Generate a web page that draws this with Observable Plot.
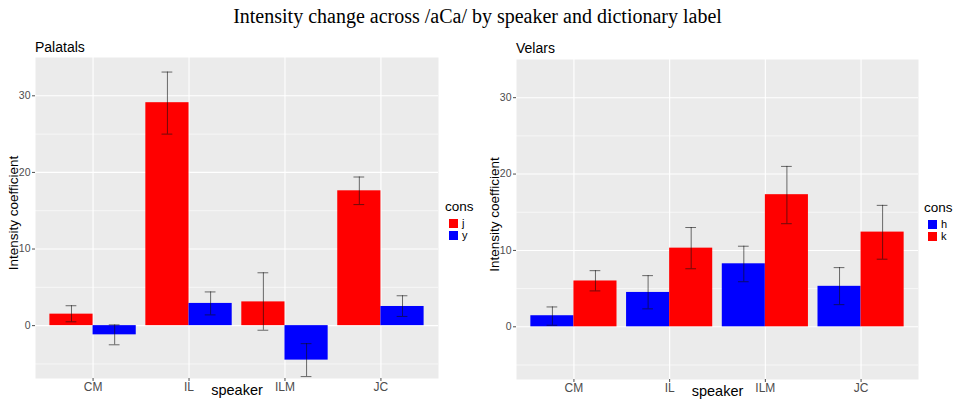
<!DOCTYPE html>
<html><head><meta charset="utf-8">
<script src="https://cdn.jsdelivr.net/npm/d3@7"></script>
<script src="https://cdn.jsdelivr.net/npm/@observablehq/plot@0.6"></script>
<style>
body{margin:0;background:#fff;font-family:"Liberation Sans",Arial,sans-serif;}
#root{position:relative;width:955px;height:402px;overflow:hidden;background:#fff;}
.abs{position:absolute;white-space:nowrap;}
.title{font-family:"Liberation Serif","Times New Roman",serif;font-size:20px;left:0;width:955px;text-align:center;top:5px;color:#000;}
.ptitle{font-size:14px;color:#000;}
.lgt{font-size:13.5px;color:#000;line-height:16px;}
.key{width:9px;height:9px;}
.klab{font-size:11px;color:#000;line-height:11px;}
</style></head><body><div id="root"></div>
<script>
const speakers = ["CM", "IL", "ILM", "JC"];

// Palatals
const palCons = ["j", "y"];
const palColors = ["#FF0000", "#0000FF"];
const palJ   = [1.5, 29.1, 3.1, 17.6];
const palJlo = [0.5, 25.0, -0.6, 15.8];
const palJhi = [2.6, 33.1, 6.9, 19.4];
const palY   = [-1.2, 2.9, -4.5, 2.5];
const palYlo = [-2.5, 1.4, -6.65, 1.2];
const palYhi = [0.1, 4.4, -2.35, 3.9];

// Velars
const velCons = ["h", "k"];
const velColors = ["#0000FF", "#FF0000"];
const velH   = [1.45, 4.5, 8.25, 5.3];
const velHlo = [0.2, 2.35, 5.9, 2.9];
const velHhi = [2.6, 6.7, 10.55, 7.75];
const velK   = [6.0, 10.3, 17.3, 12.4];
const velKlo = [4.7, 7.6, 13.5, 8.85];
const velKhi = [7.35, 13.0, 21.0, 15.9];

const majorTicks = [0, 10, 20, 30];
const minorTicks = [-5, 5, 15, 25];

function rowsFor(consList, series) {
  const rows = [];
  speakers.forEach((s, si) => {
    consList.forEach((c, ci) => {
      const [v, lo, hi] = series[ci];
      rows.push({speaker: s, si: si + 1, cons: c, ci, value: v[si], lo: lo[si], hi: hi[si]});
    });
  });
  return rows;
}

const dodge = 0.45;
const capHalf = 0.056;

function panel(rows, consList, colors, w, h, mb, ml) {
  const x1 = d => d.si + (d.ci - 1) * dodge;
  const xc = d => d.si + (d.ci - 0.5) * dodge;
  return Plot.plot({
    width: w, height: h,
    marginTop: 0, marginBottom: mb, marginLeft: ml, marginRight: 2,
    x: {type: "linear", domain: [0.4, 4.6]},
    y: {domain: [-6.9, 35]},
    color: {domain: consList, range: colors},
    style: {fontFamily: "'Liberation Sans', Arial, sans-serif", background: "transparent", overflow: "visible"},
    marks: [
      Plot.frame({fill: "#EBEBEB", stroke: "none"}),
      Plot.ruleY(minorTicks, {y: d => d, stroke: "white", strokeWidth: 0.6}),
      Plot.ruleY(majorTicks, {y: d => d, stroke: "white", strokeWidth: 1.1}),
      Plot.ruleX([1, 2, 3, 4], {x: d => d, stroke: "white", strokeWidth: 1.1}),
      Plot.rect(rows, {x1: x1, x2: d => x1(d) + dodge, y1: 0, y2: "value", fill: "cons"}),
      Plot.ruleX(rows, {x: xc, y1: "lo", y2: "hi", stroke: "#111", strokeOpacity: 0.6, strokeWidth: 1}),
      Plot.ruleY(rows, {y: "lo", x1: d => xc(d) - capHalf, x2: d => xc(d) + capHalf, stroke: "#111", strokeOpacity: 0.6, strokeWidth: 1}),
      Plot.ruleY(rows, {y: "hi", x1: d => xc(d) - capHalf, x2: d => xc(d) + capHalf, stroke: "#111", strokeOpacity: 0.6, strokeWidth: 1}),
      Plot.axisY({ticks: majorTicks, tickSize: 3, tickPadding: 2, fontSize: 10.5, color: "#4D4D4D", label: null}),
      Plot.axisX({ticks: [1, 2, 3, 4], tickFormat: i => speakers[i - 1], tickSize: 3, tickPadding: 1, fontSize: 12, color: "#4D4D4D", label: null}),
      Plot.text(["speaker"], {text: d => d, frameAnchor: "bottom", textAnchor: "middle", dy: 16, fontSize: 14.5, fill: "black"}),
      Plot.text(["Intensity coefficient"], {text: d => d, frameAnchor: "left", textAnchor: "middle", rotate: -90, dx: -22, dy: -5, fontSize: 13.5, fill: "black"})
    ]
  });
}

const root = document.getElementById("root");
function addDiv(cls, html, left, top) {
  const d = document.createElement("div");
  d.className = "abs " + cls;
  d.innerHTML = html;
  if (left != null) d.style.left = left + "px";
  if (top != null) d.style.top = top + "px";
  root.appendChild(d);
  return d;
}

addDiv("title", "Intensity change across /aCa/ by speaker and dictionary label");

// left panel
const palRows = rowsFor(palCons, [[palJ, palJlo, palJhi], [palY, palYlo, palYhi]]);
const left = panel(palRows, palCons, palColors, 440, 345, 24, 35);
const lw = document.createElement("div");
lw.className = "abs"; lw.style.left = "0px"; lw.style.top = "57px";
lw.appendChild(left); root.appendChild(lw);
addDiv("ptitle", "Palatals", 35, 39);

// right panel
const velRows = rowsFor(velCons, [[velH, velHlo, velHhi], [velK, velKlo, velKhi]]);
const right = panel(velRows, velCons, velColors, 438, 343, 23, 34);
const rw = document.createElement("div");
rw.className = "abs"; rw.style.left = "482px"; rw.style.top = "59px";
rw.appendChild(right); root.appendChild(rw);
addDiv("ptitle", "Velars", 516, 40);

// legends
function legend(x, y, consList, colors) {
  addDiv("lgt", "cons", x, y - 8);
  consList.forEach((c, i) => {
    const top = y + 12 + i * 12;
    const k = addDiv("key", "", x + 4, top);
    k.style.background = colors[i];
    addDiv("klab", c, x + 17, top - 1);
  });
}
legend(445, 207, palCons, palColors);
legend(924, 208, velCons, velColors);
</script>
</body></html>
